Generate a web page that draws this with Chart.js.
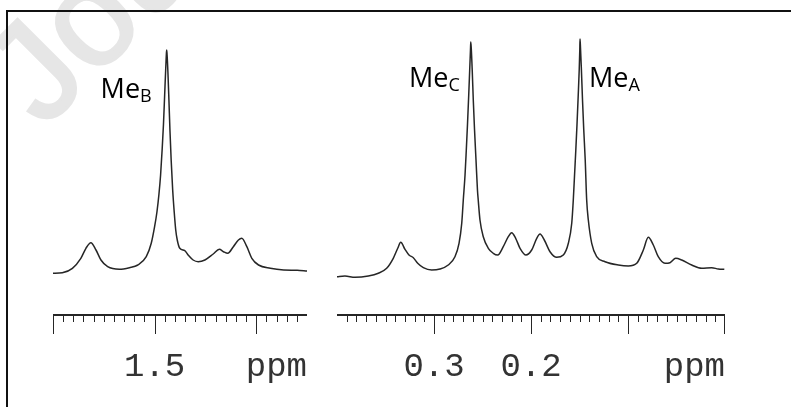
<!DOCTYPE html>
<html lang="en">

<head>
    <meta charset="UTF-8">
    <script src="https://cdn.jsdelivr.net/npm/chart.js"></script>
    <title>1H NMR Me signals</title>
    <style>
        body { margin: 0; width: 791px; height: 407px; background: #fff; position: relative; overflow: hidden; }
        .wm-box { position: absolute; left: 0; top: 0; width: 791px; height: 407px; overflow: hidden; }
        .wm { position: absolute; left: -40px; top: 46px; font: 140px/1 "Liberation Sans", sans-serif; color: #e6e6e6;
              -webkit-text-stroke: 3px #e6e6e6;
              transform: rotate(-45deg); transform-origin: 0 0; white-space: nowrap; }
        .frame { position: absolute; left: 6px; top: 10px; width: 800px; height: 420px;
                 border-top: 2px solid #111; border-left: 2px solid #111; }
        #leftChart { position: absolute; left: 53px; top: 0; }
        #rightChart { position: absolute; left: 337px; top: 0; }
    </style>
</head>

<body>
    <div class="wm-box"><div class="wm">Journal Pre-proof</div></div>
    <div class="frame"></div>
    <canvas id="leftChart" width="254" height="407"></canvas>
    <canvas id="rightChart" width="388" height="407"></canvas>
</body>

</html>

<script>
    // shifts (ppm) and intensities, left window
    const leftPpm = [1.6007, 1.5908, 1.5809, 1.5726, 1.5676, 1.5627, 1.5577, 1.5528, 1.5462, 1.5347, 1.5248, 1.5165, 1.5082, 1.5033, 1.5000, 1.4977, 1.4957, 1.4941, 1.4926, 1.4913, 1.4901, 1.4891, 1.4883, 1.4881, 1.4877, 1.4869, 1.4859, 1.4849, 1.4837, 1.4822, 1.4807, 1.4792, 1.4777, 1.4752, 1.4703, 1.4670, 1.4621, 1.4571, 1.4505, 1.4423, 1.4363, 1.4322, 1.4280, 1.4225, 1.4175, 1.4142, 1.4092, 1.4043, 1.3977, 1.3861, 1.3730, 1.3597, 1.3498];
    const leftInt = [6.7, 7.3, 11.7, 21.7, 31.7, 37.3, 30, 20, 13.3, 10.7, 12.3, 15, 23.3, 36.7, 53.3, 68, 86, 105, 130, 155, 185, 210, 228, 230, 225, 208, 180, 150, 120, 90, 68, 50, 40, 31.7, 29.3, 25, 20, 18.3, 20, 26, 30.7, 28.3, 26.7, 33.3, 40, 41.7, 33.3, 21.7, 15, 11.7, 10, 9.7, 9];

    // right window
    const rightPpm = [0.4003, 0.3918, 0.3814, 0.3677, 0.3574, 0.3488, 0.3420, 0.3374, 0.3343, 0.3299, 0.3258, 0.3213, 0.3168, 0.3110, 0.3024, 0.2938, 0.2853, 0.2784, 0.2742, 0.2714, 0.2698, 0.2680, 0.2667, 0.2655, 0.2642, 0.2632, 0.2624, 0.2621, 0.2616, 0.2606, 0.2595, 0.2582, 0.2567, 0.2552, 0.2544, 0.2526, 0.2492, 0.2440, 0.2389, 0.2343, 0.2286, 0.2234, 0.2199, 0.2158, 0.2113, 0.2052, 0.1993, 0.1941, 0.1907, 0.1863, 0.1804, 0.1735, 0.1667, 0.1615, 0.1580, 0.1564, 0.1551, 0.1538, 0.1526, 0.1513, 0.1503, 0.1497, 0.1495, 0.1491, 0.1481, 0.1469, 0.1456, 0.1441, 0.1426, 0.1409, 0.1374, 0.1323, 0.1237, 0.1100, 0.0997, 0.0910, 0.0842, 0.0791, 0.0739, 0.0688, 0.0619, 0.0567, 0.0508, 0.0446, 0.0343, 0.0240, 0.0137, 0.0069, 0.0007];
    const rightInt = [3.3, 4, 2.7, 4, 6.7, 11.7, 21.7, 31.7, 37.7, 30.7, 25, 22.3, 16.7, 12.3, 10, 11, 15, 23.3, 36.7, 56.7, 80, 105, 130, 155, 185, 210, 230, 238, 232, 210, 180, 150, 120, 90, 80, 60, 43.3, 31.7, 26.7, 25, 33.3, 43.3, 47.3, 41.7, 31.7, 25, 30, 41.7, 46, 40, 28.3, 22.7, 25, 36.7, 56.7, 80, 105, 130, 155, 185, 210, 230, 241, 235, 212, 180, 150, 120, 80, 60, 36.7, 23.3, 18.3, 15, 14, 16.7, 30, 42.7, 35, 23.3, 16.7, 17.3, 21.7, 20, 15, 11.7, 12.3, 11, 10.7];

    // ruler tick labels
    const leftTickVals = [1.5];
    const leftTickText = ['1.5'];
    const rightTickVals = [0.3, 0.2];
    const rightTickText = ['0.3', '0.2'];

    // peak labels
    const leftPeakText = ['B'];
    const leftPeakPpm = [1.4881];
    const rightPeakText = ['C', 'A'];
    const rightPeakPpm = [0.2621, 0.1495];

    const ink = '#262626';

    function rulerPlugin(opt) {
        return {
            id: 'ruler',
            afterDraw(chart) {
                const ctx = chart.ctx;
                const xs = chart.scales.x;
                const ys = chart.scales.y;
                const area = chart.chartArea;
                const y0 = area.bottom + 35;
                ctx.save();
                ctx.strokeStyle = ink;
                ctx.lineWidth = 2;
                ctx.beginPath();
                ctx.moveTo(area.left, y0);
                ctx.lineTo(area.right, y0);
                ctx.stroke();
                // ticks every 0.01 ppm, long every 0.1
                ctx.lineWidth = 1;
                for (let k = opt.tickFrom; k <= opt.tickTo; k++) {
                    let px = Math.round(xs.getPixelForValue(k / 100)) + 0.5;
                    px = Math.min(Math.max(px, area.left + 0.5), area.right - 0.5);
                    const len = k % 10 === 0 ? 19 : 7;
                    ctx.beginPath();
                    ctx.moveTo(px, y0);
                    ctx.lineTo(px, y0 + len);
                    ctx.stroke();
                }
                ctx.fillStyle = '#333';
                ctx.font = '34px "Liberation Mono", monospace';
                ctx.textBaseline = 'alphabetic';
                ctx.textAlign = 'center';
                opt.tickVals.forEach((v, i) => {
                    ctx.fillText(opt.tickText[i], xs.getPixelForValue(v), 376);
                });
                ctx.textAlign = 'right';
                ctx.fillText('ppm', area.right, 376);

                // Me labels next to the tall peaks
                opt.peakPpm.forEach((v, i) => {
                    const px = xs.getPixelForValue(v);
                    const lab = opt.peakLab[i];
                    ctx.font = '27px "Open Sans", sans-serif';
                    const w1 = ctx.measureText('Me').width;
                    ctx.font = '18px "Open Sans", sans-serif';
                    const w2 = ctx.measureText(lab.sub).width;
                    const x0 = lab.side === 'left' ? px - lab.gap - w1 - w2 : px + lab.gap;
                    const base = ys.getPixelForValue(lab.at);
                    ctx.textAlign = 'left';
                    ctx.fillStyle = '#000';
                    ctx.font = '27px "Open Sans", sans-serif';
                    ctx.fillText('Me', x0, base);
                    ctx.font = '18px "Open Sans", sans-serif';
                    ctx.fillText(lab.sub, x0 + w1, base + 4);
                });
                ctx.restore();
            }
        };
    }

    function makeSpectrum(id, ppm, inten, min, max, opt) {
        const pts = ppm.map((p, i) => ({ x: p, y: inten[i] }));
        new Chart(document.getElementById(id), {
            type: 'line',
            data: {
                datasets: [{
                    data: pts,
                    borderColor: ink,
                    borderWidth: 1.5,
                    pointRadius: 0,
                    cubicInterpolationMode: 'monotone',
                    fill: false
                }]
            },
            options: {
                responsive: false,
                animation: false,
                layout: { padding: { left: 0, right: 0, top: 30, bottom: 127 } },
                plugins: { legend: { display: false }, tooltip: { enabled: false } },
                scales: {
                    x: { type: 'linear', reverse: true, min: min, max: max, display: false },
                    y: { min: 0, max: 250, display: false }
                }
            },
            plugins: [rulerPlugin(opt)]
        });
    }

    makeSpectrum('leftChart', leftPpm, leftInt, 1.35, 1.60, {
        tickFrom: 136, tickTo: 160,
        tickVals: leftTickVals, tickText: leftTickText,
        peakPpm: leftPeakPpm,
        peakLab: leftPeakText.map(s => ({ sub: s, side: 'left', gap: 15, at: 182 }))
    });

    makeSpectrum('rightChart', rightPpm, rightInt, 0.0, 0.4, {
        tickFrom: 0, tickTo: 39,
        tickVals: rightTickVals, tickText: rightTickText,
        peakPpm: rightPeakPpm,
        peakLab: rightPeakText.map((s, i) => ({ sub: s, side: i === 0 ? 'left' : 'right', gap: i === 0 ? 11 : 9, at: 193 }))
    });
</script>
